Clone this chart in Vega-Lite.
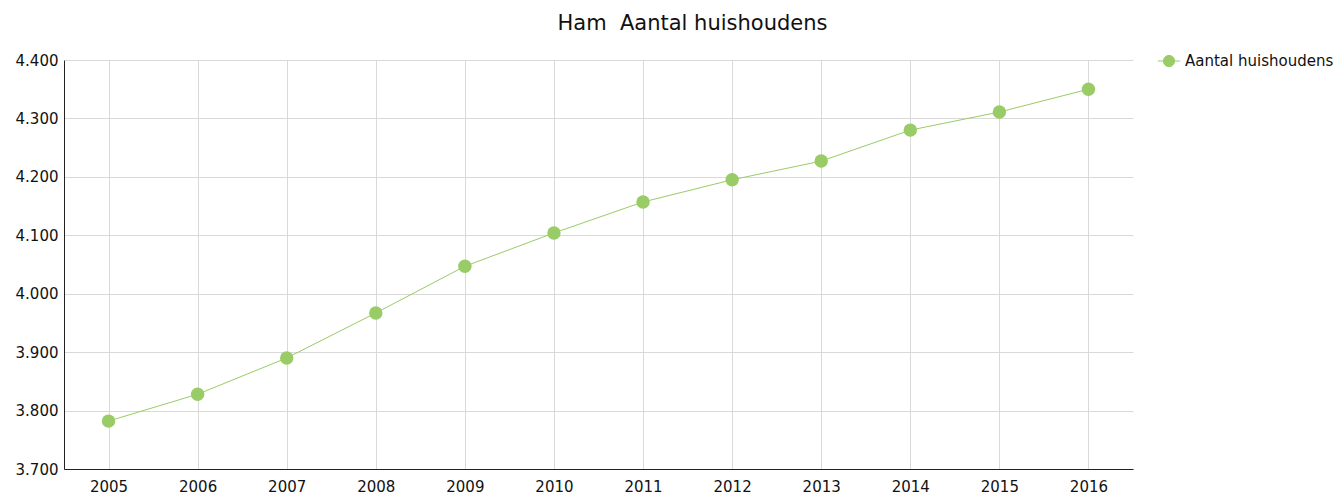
{
  "$schema": "https://vega.github.io/schema/vega-lite/v6.json",
  "width": 1069,
  "height": 409,
  "autosize": {"type": "none"},
  "padding": {"left": 64, "top": 60, "right": 209, "bottom": 29},
  "background": "white",
  "title": {
    "text": "Ham\u00a0 Aantal huishoudens",
    "font": "DejaVu Sans",
    "fontSize": 21,
    "fontWeight": "normal",
    "color": "#111111",
    "anchor": "middle",
    "dx": 94,
    "offset": 15
  },
  "data": {
    "values": [
      {"jaar": "2005", "waarde": 3782, "reeks": "Aantal huishoudens"},
      {"jaar": "2006", "waarde": 3828, "reeks": "Aantal huishoudens"},
      {"jaar": "2007", "waarde": 3890, "reeks": "Aantal huishoudens"},
      {"jaar": "2008", "waarde": 3967, "reeks": "Aantal huishoudens"},
      {"jaar": "2009", "waarde": 4047, "reeks": "Aantal huishoudens"},
      {"jaar": "2010", "waarde": 4104, "reeks": "Aantal huishoudens"},
      {"jaar": "2011", "waarde": 4157, "reeks": "Aantal huishoudens"},
      {"jaar": "2012", "waarde": 4195, "reeks": "Aantal huishoudens"},
      {"jaar": "2013", "waarde": 4227, "reeks": "Aantal huishoudens"},
      {"jaar": "2014", "waarde": 4280, "reeks": "Aantal huishoudens"},
      {"jaar": "2015", "waarde": 4311, "reeks": "Aantal huishoudens"},
      {"jaar": "2016", "waarde": 4350, "reeks": "Aantal huishoudens"}
    ]
  },
  "encoding": {
    "x": {
      "field": "jaar",
      "type": "ordinal",
      "scale": {"type": "point", "padding": 0.5},
      "axis": {
        "title": null,
        "labelAngle": 0,
        "labelFont": "DejaVu Sans",
        "labelFontSize": 15,
        "labelColor": "#111111",
        "labelPadding": 10,
        "labelOverlap": false,
        "ticks": false,
        "domain": true,
        "domainColor": "#222222",
        "domainWidth": 1,
        "grid": true,
        "gridColor": "#d9d9d9",
        "gridWidth": 1
      }
    },
    "y": {
      "field": "waarde",
      "type": "quantitative",
      "scale": {"domain": [3700, 4400], "nice": false, "zero": false},
      "axis": {
        "title": null,
        "values": [3700, 3800, 3900, 4000, 4100, 4200, 4300, 4400],
        "labelExpr": "replace(format(datum.value, ','), ',', '.')",
        "labelFont": "DejaVu Sans",
        "labelFontSize": 15,
        "labelColor": "#111111",
        "labelPadding": 6,
        "labelOverlap": false,
        "ticks": false,
        "domain": true,
        "domainColor": "#222222",
        "grid": true,
        "gridColor": "#d9d9d9",
        "gridWidth": 1
      }
    },
    "color": {
      "field": "reeks",
      "type": "nominal",
      "scale": {"range": ["#99cc66"]},
      "legend": {
        "title": null,
        "orient": "none",
        "legendX": 1093,
        "legendY": -11,
        "labelFont": "DejaVu Sans",
        "labelFontSize": 15,
        "labelColor": "#111111",
        "symbolType": "M-1,0L-0.5,0M0.5,0L1,0M-0.5,0A0.5,0.5 0 1,1 0.5,0A0.5,0.5 0 1,1 -0.5,0Z",
        "symbolSize": 500,
        "symbolStrokeWidth": 1,
        "symbolFillColor": "#99cc66",
        "symbolStrokeColor": "#99cc66",
        "labelOffset": 4
      }
    }
  },
  "layer": [
    {"mark": {"type": "line", "strokeWidth": 1}},
    {"mark": {"type": "circle", "size": 180, "opacity": 1}}
  ],
  "config": {"view": {"stroke": null}}
}
